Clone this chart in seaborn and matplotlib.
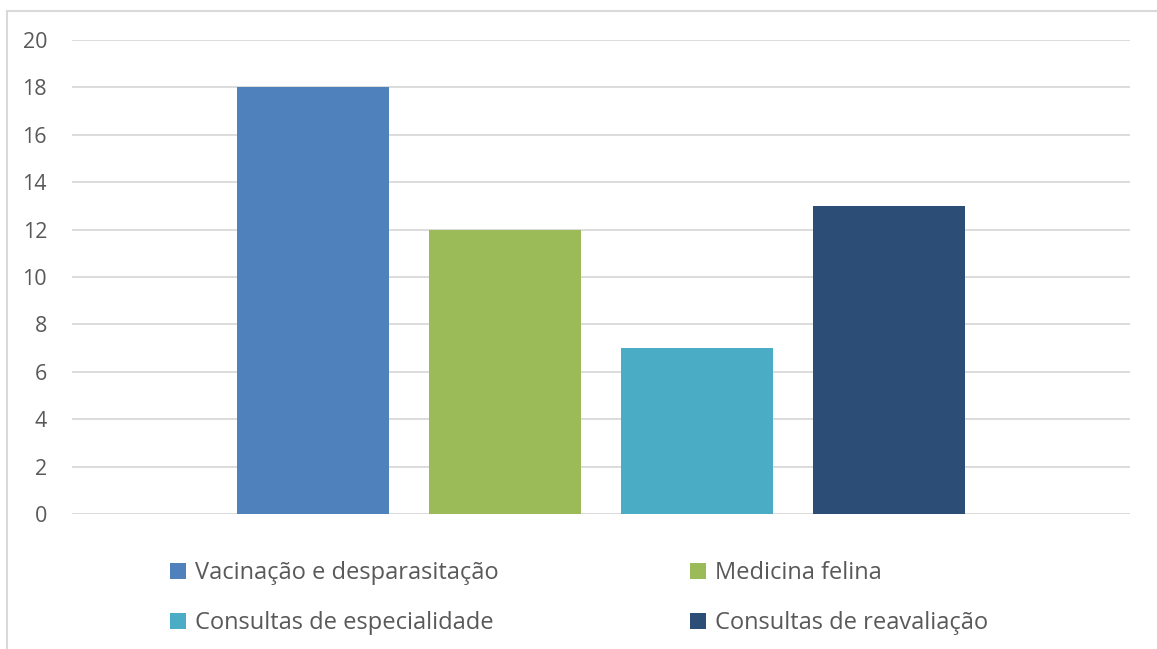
import matplotlib
matplotlib.use("Agg")
import matplotlib.pyplot as plt
import matplotlib.patches as mpatches
import seaborn as sns
import pandas as pd

# Appointments by service type
services = ["Vacinação e desparasitação", "Medicina felina",
            "Consultas de especialidade", "Consultas de reavaliação"]
counts = [18, 12, 7, 13]
colors = ["#4F81BD", "#9BBB59", "#4BACC6", "#2C4D75"]
y_ticks = [0, 2, 4, 6, 8, 10, 12, 14, 16, 18, 20]

sns.set_theme(style="white")
plt.rcParams["font.family"] = ["Open Sans", "DejaVu Sans"]

W, H = 1157, 649
fig = plt.figure(figsize=(W / 100, H / 100), dpi=100)
ax = fig.add_axes([72 / W, (H - 514) / H, (1130 - 72) / W, (514 - 40) / H])

df = pd.DataFrame({"grupo": [""] * len(services), "servico": services, "n": counts})
sns.barplot(data=df, x="grupo", y="n", hue="servico", hue_order=services,
            palette=colors, saturation=1, width=0.726, gap=0.21,
            linewidth=0, ax=ax)

ax.set_xlim(-0.5, 0.5)
ax.set_ylim(0, 20)
ax.set_yticks(y_ticks)
ax.set_xlabel("")
ax.set_ylabel("")
ax.set_xticks([])
for s in ax.spines.values():
    s.set_visible(False)
ax.grid(axis="y", color="#D9D9D9", linewidth=1.3)
ax.set_axisbelow(True)
ax.tick_params(axis="y", length=0, pad=18, labelsize=15.5, labelcolor="#595959")

handles, labels = ax.get_legend_handles_labels()
ax.get_legend().remove()
order = [0, 2, 1, 3]
fig.legend([handles[i] for i in order], [labels[i] for i in order],
           ncol=2, loc="upper left", bbox_to_anchor=(170 / W, 1 - 561 / H),
           frameon=False, fontsize=17, labelcolor="#595959",
           handlelength=0.68, handleheight=0.68, handletextpad=0.38,
           columnspacing=8.1, labelspacing=1.12, borderaxespad=0, borderpad=0)

# Outer chart frame
fig.patches.append(mpatches.Rectangle((6.5 / W, -0.1), 1.2, 1 - 10.5 / H + 0.1,
                                      transform=fig.transFigure, fill=False,
                                      edgecolor="#D9D9D9", linewidth=1.5))

fig.savefig("out.png", dpi=100)
